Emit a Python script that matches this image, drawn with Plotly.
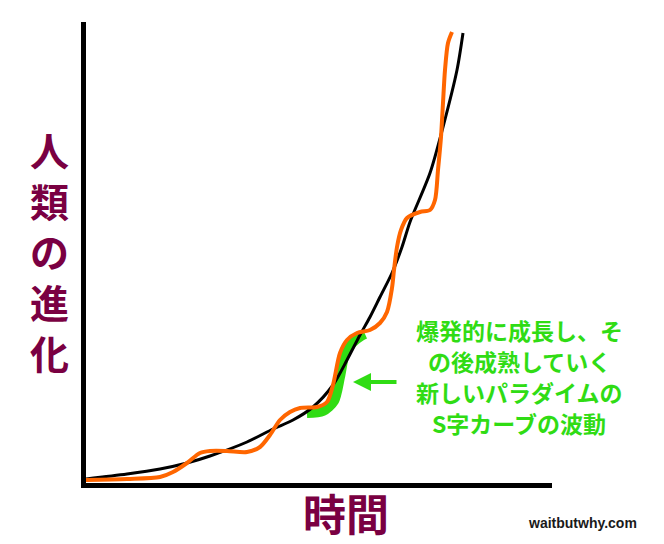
import plotly.graph_objects as go

# Smooth trend (black)
trend_x = [1, 43, 76, 103, 126, 163, 189, 209, 229, 249, 263, 276, 286, 296, 308, 318, 326, 346, 359, 373, 379]
trend_y = [6, 11, 16, 22, 29, 43, 56, 65, 78, 100, 125, 150, 168, 188, 212, 238, 263, 312, 358, 415, 452]

# Wavy paradigm curve (orange)
wave_x = [1, 43, 76, 89, 103, 116, 126, 143, 163, 176, 186, 196, 206, 216, 233, 243, 249, 256, 263, 273,
          286, 296, 303, 308, 310, 313, 317, 323, 336, 346, 351, 354, 357, 359, 361, 364, 368]
wave_y = [5, 6, 8, 13, 22, 32, 34, 34, 33, 38, 50, 65, 73, 77, 78, 83, 100, 132, 145, 152,
          155, 162, 173, 197, 215, 238, 255, 267, 273, 275, 285, 315, 348, 382, 415, 442, 453]

# Highlighted S-curve segment (green)
s_x = [223, 239, 250, 256, 261, 268, 277, 281]
s_y = [72, 74, 84, 108, 132, 142, 149, 151]

y_title_chars = ["人", "類", "の", "進", "化"]
x_title = "時間"
note_lines = ["爆発的に成長し、そ", "の後成熟していく", "新しいパラダイムの", "S字カーブの波動"]
credit = "waitbutwhy.com"

OFF = 8                      # page offset of the plot div
W, H = 648, 536              # figure size
# plot area in page pixels: left 86, right 552, top 22, bottom 483
L, T = 86 - OFF, 22 - OFF
R = W - (552 - OFF)
B = H - (483 - OFF)
PW, PH = W - L - R, H - T - B

def fx(x):
    return (x - OFF - L) / PW

def fy(y):
    return (H - B - (y - OFF)) / PH

MAROON = "#7a0042"
GREEN = "#30dc14"
ORANGE = "#ff6600"
JP = "Noto Sans CJK JP"

fig = go.Figure()
fig.add_trace(go.Scatter(x=s_x, y=s_y, mode="lines",
                         line=dict(color=GREEN, width=10, shape="spline", smoothing=0.8),
                         hoverinfo="skip", showlegend=False))
fig.add_trace(go.Scatter(x=trend_x, y=trend_y, mode="lines",
                         line=dict(color="black", width=3, shape="spline", smoothing=0.8),
                         hoverinfo="skip", showlegend=False))
fig.add_trace(go.Scatter(x=wave_x, y=wave_y, mode="lines",
                         line=dict(color=ORANGE, width=4, shape="spline", smoothing=0.8),
                         hoverinfo="skip", showlegend=False))

annotations = [
    dict(text="<b>" + "<br>".join(y_title_chars) + "</b>", x=fx(49), y=fy(251),
         xref="paper", yref="paper", showarrow=False, align="center",
         xanchor="center", yanchor="middle",
         font=dict(family=JP, size=39, color=MAROON)),
    dict(text="<b>" + x_title + "</b>", x=fx(346), y=fy(512),
         xref="paper", yref="paper", showarrow=False,
         xanchor="center", yanchor="middle",
         font=dict(family=JP, size=43, color=MAROON)),
    dict(text="", x=269, y=103, ax=314, ay=103, xref="x", yref="y",
         axref="x", ayref="y", showarrow=True, arrowhead=2,
         arrowsize=0.9, arrowwidth=4, arrowcolor=GREEN),
    dict(text="<b>" + credit + "</b>", x=fx(582), y=fy(523),
         xref="paper", yref="paper", showarrow=False,
         xanchor="center", yanchor="middle",
         font=dict(family="Liberation Sans, Arial", size=14, color="#1a1a1a")),
]
for i, line in enumerate(note_lines):
    annotations.append(dict(text="<b>" + line + "</b>", x=fx(519), y=fy(330 + i * 31),
                            xref="paper", yref="paper", showarrow=False,
                            xanchor="center", yanchor="middle", height=30,
                            font=dict(family=JP, size=23, color=GREEN)))

fig.update_layout(
    width=W, height=H,
    margin=dict(l=L, r=R, t=T, b=B),
    paper_bgcolor="white", plot_bgcolor="white",
    annotations=annotations,
    xaxis=dict(range=[2, 2 + PW], showgrid=False, zeroline=False, showticklabels=False,
               ticks="", showline=True, linecolor="black", linewidth=5, fixedrange=True),
    yaxis=dict(range=[2, 2 + PH], showgrid=False, zeroline=False, showticklabels=False,
               ticks="", showline=True, linecolor="black", linewidth=5, fixedrange=True),
)

fig.write_html("out.html", config={"displayModeBar": False})
